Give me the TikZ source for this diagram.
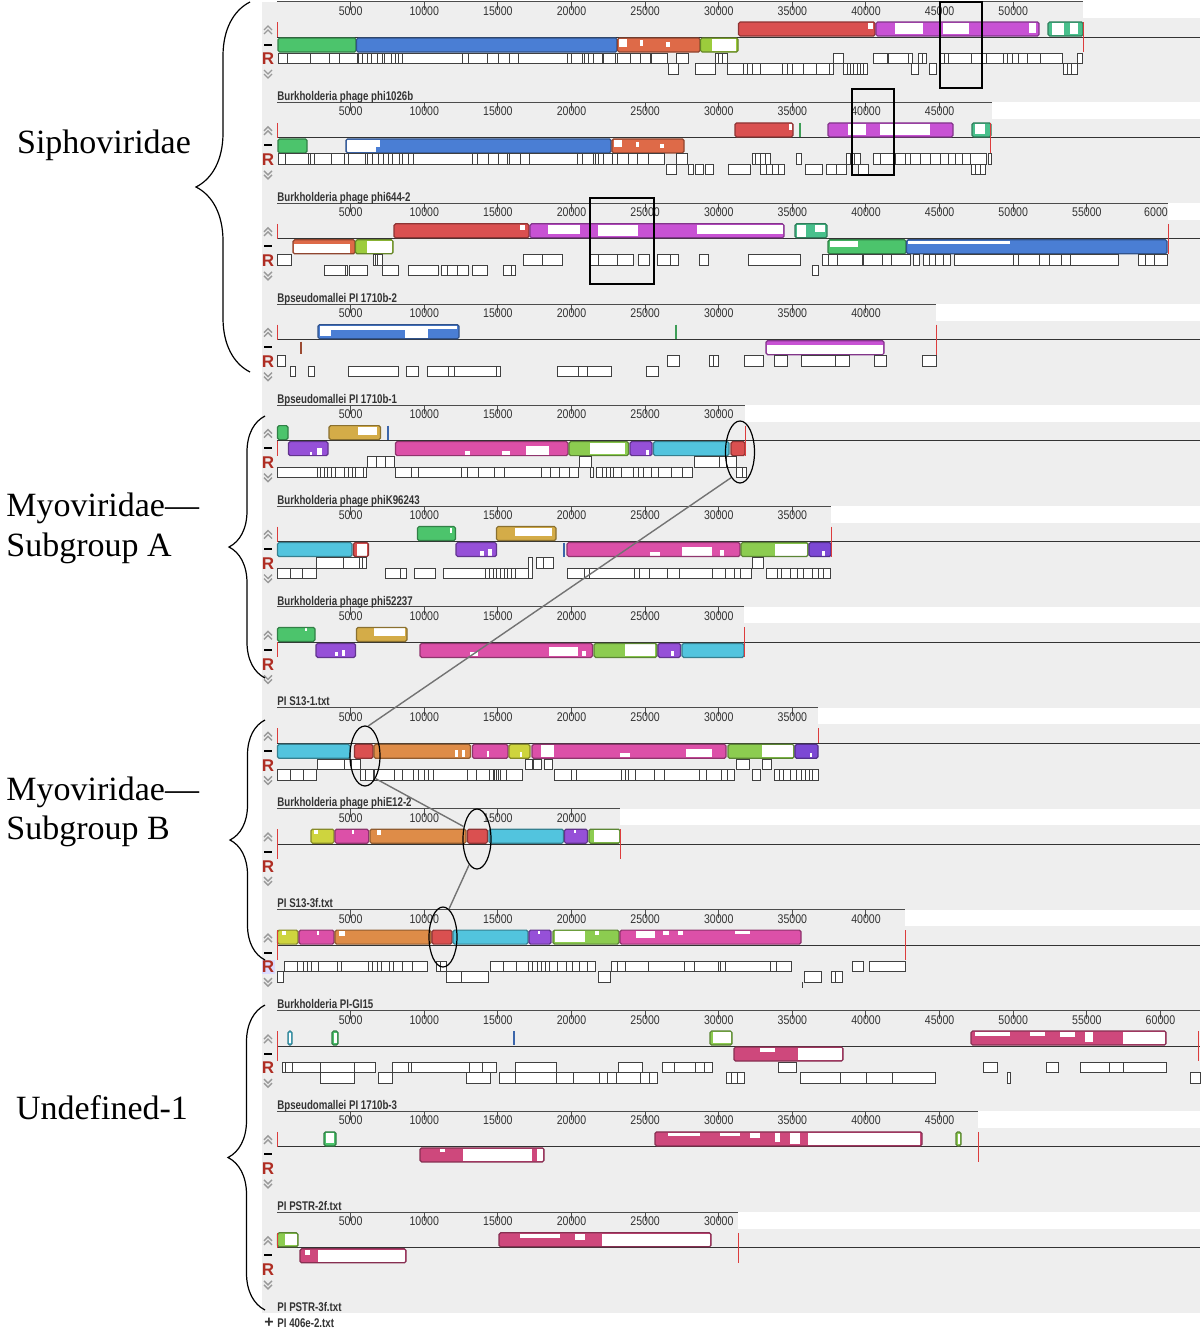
\documentclass[tikz,border=0pt]{standalone}
\usepackage{fontspec}
\newfontfamily\mfont[FakeStretch=0.84]{Liberation Sans}
\newfontfamily\tfont[FakeStretch=0.77]{Liberation Sans}
\newfontfamily\rfont{Liberation Sans}
\newfontfamily\serf{Liberation Serif}
\usetikzlibrary{shapes.geometric,decorations.pathreplacing}
\definecolor{cgreen}{RGB}{76,196,108}
\definecolor{cblue}{RGB}{74,126,212}
\definecolor{csalmon}{RGB}{222,106,72}
\definecolor{clime}{RGB}{156,204,60}
\definecolor{cred}{RGB}{218,80,80}
\definecolor{cmag}{RGB}{200,82,212}
\definecolor{cteal}{RGB}{72,192,140}
\definecolor{cgold}{RGB}{212,172,72}
\definecolor{cviol}{RGB}{150,80,216}
\definecolor{cpink}{RGB}{220,80,168}
\definecolor{ccyan}{RGB}{82,196,222}
\definecolor{corange}{RGB}{222,140,72}
\definecolor{cyell}{RGB}{206,212,62}
\definecolor{cdpink}{RGB}{206,72,124}
\definecolor{clg}{RGB}{140,204,80}
\definecolor{cdviol}{RGB}{124,72,212}
\definecolor{panelgray}{RGB}{238,238,238}
\definecolor{markred}{RGB}{220,60,60}
\definecolor{rcol}{RGB}{175,45,35}
\tikzset{
 rline/.style={draw=black!70, line width=0.5pt},
 cline/.style={draw=black!80, line width=0.5pt},
 rnum/.style={anchor=base, inner sep=0pt, font=\mfont\fontsize{6.3}{7}\selectfont, text=black!80},
 ttl/.style={anchor=base west, inner sep=0pt, font=\tfont\bfseries\fontsize{6.3}{7}\selectfont, text=black!80},
 rlab/.style={inner sep=0pt, font=\rfont\bfseries\fontsize{8.5}{9}\selectfont, text=rcol},
 chev/.style={draw=black!40, line width=0.7pt},
 gbox/.style={fill=white, draw=black!75, line width=0.45pt},
 gline/.style={draw=black!75, line width=0.45pt},
 mk/.style={draw=markred, line width=0.5pt},
 grp/.style={inner sep=0pt, font=\serf\fontsize{17}{20}\selectfont},
 brc/.style={decorate, draw=black, line width=0.6pt},
 hl/.style={draw=black, line width=1pt},
 ell/.style={ellipse, draw=black, line width=0.6pt, inner sep=0pt},
 conn/.style={draw=black!55, line width=0.7pt},
}
\newcommand\blk[6]{\fill[#1,rounded corners=0.8pt] (#2,#4) rectangle (#3,#5); #6 \draw[#1!65!black,line width=0.6pt,rounded corners=0.8pt] (#2,#4) rectangle (#3,#5);}
\newcommand\ublk[4]{\blk{#1}{#2}{#3}{-15}{-1}{#4}}
\newcommand\dblk[4]{\blk{#1}{#2}{#3}{1}{15}{#4}}
\newcommand\wpt[4]{\fill[white] (#1,#3) rectangle (#2,#4);}
\newcommand\gA[3]{\draw[gbox] (#1,16) rectangle (#2,26.5); \foreach \xx in {#3}{\draw[gline] (\xx,16)--(\xx,26.5);}}
\newcommand\gB[3]{\draw[gbox] (#1,26.5) rectangle (#2,37); \foreach \xx in {#3}{\draw[gline] (\xx,26.5)--(\xx,37);}}
\newcommand\mkr[3]{\draw[mk] (#1,#2)--(#1,#3);}
\newcommand\vtick[4]{\draw[#1, line width=1pt] (#2,#3)--(#2,#4);}
\newcommand\panelbg[3]{%
 \fill[panelgray] (262,-35.5) rectangle (1200,65.4);
 \fill[white] (#1,-35.5) rectangle (1200,-19);
 \draw[rline] (277,-35.5)--(#1,-35.5);
 \foreach \k in {1,...,#2}{\pgfmathsetmacro\xk{277+73.62*\k}
   \draw[rline] (\xk,-35.5)--(\xk,-27);
   \node[rnum] (n#3-\k) at (\xk,-22) {\the\numexpr5000*\k\relax};}
 \draw[cline] (277,0)--(1200,0);
 \draw[chev] (264,-7)--(268,-11)--(272,-7) (264,-3)--(268,-7)--(272,-3);
 \fill[black] (264,6.5) rectangle (272,8.5);
 \node[rlab] (R#3) at (268,22) {R};
 \draw[chev] (264,33)--(268,37)--(272,33) (264,37)--(268,41)--(272,37);}
\begin{document}
\begin{tikzpicture}[x=0.5pt,y=-0.5pt]
\useasboundingbox (0,0) rectangle (1200,1333);
\fill[white] (0,0) rectangle (1200,1333);
\foreach \pI/\pE/\pN in {0/1083/10,1/992/9,2/1168/11,3/936/8,4/745/6,5/831/7,6/744/6,7/818/7,8/620/4,9/905/8,10/1200/12,11/978/9,12/738/6}{
 \begin{scope}[shift={(0,37+100.9*\pI)}]
   \panelbg{\pE}{\pN}{\pI}
 \end{scope}}
% ---------- panel 0
\begin{scope}[shift={(0,37)}]
\dblk{cgreen}{278}{356}{}
\dblk{cblue}{356.5}{617}{}
\dblk{csalmon}{617.5}{700}{\wpt{619}{627}{2}{10}\wpt{640}{643}{3}{9}\wpt{666}{670}{5}{10}}
\dblk{clime}{700.5}{738}{\wpt{712}{736}{2}{14}}
\ublk{cred}{738.5}{875}{\wpt{868}{873}{-14}{-8}}
\ublk{cmag}{876}{1039}{\wpt{895}{923}{-14}{-3}\wpt{943}{969}{-14}{-3}\wpt{1029}{1036}{-14}{-4}}
\ublk{cteal}{1048}{1083}{\wpt{1052}{1064}{-14}{-2}\wpt{1070}{1078}{-14}{-3}}
\mkr{277}{-15}{0}\mkr{1083}{-15}{15}
\gA{278}{667}{287,310,329,339,357,358.5,362,367,371,377,382,384,391,395,398,402,462,468,487,498,509,518,567,571,582,584,588,593,602,603.5,615,617,630,640,650,651}
\gB{668}{678}{668}
\gA{676}{688}{676}
\gB{695}{715}{695}
\gA{715}{727}{718,722}
\gB{727}{833}{743,747,752,760,782,787,792,803,816,829}
\gA{833}{843}{833}
\gB{843}{867}{847,850,853,857,860,863}
\gA{873}{887}{873}
\gA{888}{908}{888}
\gA{908}{912}{908}
\gB{911}{918}{911}
\gA{918}{926}{922}
\gB{929}{936}{929}
\gA{940}{1062}{944,948,971,981,986,1003,1007,1012,1018,1027,1040}
\gB{1063}{1077}{1067,1071}
\gA{1077}{1082}{1077}
\node[ttl] (t0) at (277,63.5) {Burkholderia phage phi1026b};
\end{scope}
% ---------- panel 1
\begin{scope}[shift={(0,137.9)}]
\dblk{cgreen}{278}{307}{}
\dblk{cblue}{346}{611}{\wpt{347}{376}{2}{14}\wpt{376}{380}{2}{9}}
\dblk{csalmon}{612}{684}{\wpt{614}{622}{2}{9}\wpt{636}{639}{4}{9}\wpt{660}{664}{6}{10}}
\ublk{cred}{735}{793}{\wpt{789}{792}{-14}{-8}}
\vtick{cgreen!80!black}{800}{-15}{-1}
\ublk{cmag}{828}{953}{\wpt{848}{866}{-14}{-3}\wpt{880}{930}{-14}{-3}}
\ublk{cteal}{972}{991}{\wpt{975}{985}{-14}{-4}}
\mkr{277}{-15}{0}\mkr{990}{-15}{15}
\gA{278}{664}{285,308,310,314,331,344,348,365,367,372,378,383,388,392,399,402,408,413,472,477,488,498,507,509,520,529,577,582,593,595,598,603,612,617,628,637,648}
\gB{666}{676}{666}
\gA{676}{687}{676}
\gB{688}{693}{688}
\gB{695}{703}{695}
\gB{705}{713}{705}
\gB{728}{750}{728}
\gA{752}{770}{755,760,765}
\gB{760}{784}{766,772,778}
\gA{796}{801}{796}
\gB{805}{822}{805}
\gB{826}{846}{836}
\gA{846}{860}{850,854}
\gB{858}{868}{858}
\gA{873}{986}{880,895,905,910,920,930,940,948,955,962,970}
\gB{971}{985}{975,980}
\gA{988}{991}{988}
\node[ttl] (t1) at (277,63.5) {Burkholderia phage phi644-2};
\end{scope}
% ---------- panel 2
\begin{scope}[shift={(0,238.8)}]
\node[rnum] (n2x) at (1156,-22) {6000};
\dblk{csalmon}{293}{355}{\wpt{294}{350}{5}{14}}
\dblk{clime}{355.5}{393}{\wpt{367}{392}{2}{14}}
\ublk{cred}{394}{529}{\wpt{520}{525}{-14}{-9}}
\ublk{cmag}{530}{784}{\wpt{548}{580}{-14}{-5}\wpt{598}{638}{-14}{-3}\wpt{697}{783}{-14}{-5}}
\ublk{cteal}{795}{827}{\wpt{797}{806}{-14}{-2}\wpt{815}{825}{-14}{-7}}
\dblk{cgreen}{828}{906}{\wpt{830}{858}{2}{8}}
\dblk{cblue}{906.5}{1167}{\wpt{908}{1010}{2}{5}}
\mkr{277}{-15}{0}\mkr{1168}{-15}{15}
\gA{277}{291}{277}
\gB{324}{347}{345.5}
\gB{349}{367}{349}
\gA{373}{382}{375.5,377.5}
\gB{382}{398}{382}
\gB{408}{438}{408}
\gB{441}{468}{447,457}
\gB{472}{487}{472}
\gB{503}{515}{511.5}
\gA{523}{562}{542}
\gA{590}{633}{598,617}
\gA{638}{649}{638}
\gA{657}{678}{670}
\gA{699}{708}{699}
\gA{748}{800}{748}
\gB{812}{818}{812}
\gA{822}{910}{828,837,862,863.5,882,891}
\gA{913}{919}{913}
\gA{923}{950}{929,935,943}
\gA{954}{1118}{1013,1018,1039,1049,1061,1070}
\gA{1138}{1167}{1145,1154}
\node[ttl] (t2) at (277,63.5) {Bpseudomallei PI 1710b-2};
\end{scope}
% ---------- panel 3
\begin{scope}[shift={(0,339.7)}]
\ublk{cblue}{318}{459}{\wpt{320}{331}{-14}{-4}\wpt{331}{405}{-14}{-10}\wpt{405}{428}{-14}{-2}\wpt{428}{457}{-14}{-11}}
\vtick{cgreen!80!black}{676}{-15}{-1}
\vtick{csalmon!70!black}{301}{2}{14}
\dblk{cmag}{766}{884}{\wpt{767}{883}{5}{14}}
\mkr{277}{-15}{0}\mkr{936}{-15}{15}
\gA{277}{285}{277}
\gB{290}{295}{290}
\gB{308}{314}{308}
\gB{348}{398.5}{348}
\gB{406.6}{418}{406.6}
\gB{427.6}{500.7}{448.7,454.5,496}
\gB{557.7}{611.5}{578,587}
\gB{646}{658.6}{646}
\gA{667.6}{679}{667.6}
\gA{709}{718}{713.5}
\gA{744}{763}{744}
\gA{774}{787}{774}
\gA{801}{849}{835.7}
\gA{874}{886}{874}
\gA{922}{936}{922}
\node[ttl] (t3) at (277,63.5) {Bpseudomallei PI 1710b-1};
\end{scope}
% ---------- panel 4
\begin{scope}[shift={(0,440.6)}]
\ublk{cgreen}{277.5}{288}{}
\ublk{cgold}{329}{380.5}{\wpt{358}{377}{-14}{-6}}
\vtick{cblue!80!black}{388}{-15}{-1}
\dblk{cviol}{288.5}{328}{\wpt{310}{312}{11}{14}\wpt{317}{322}{7}{14}}
\dblk{cpink}{395.5}{568}{\wpt{465}{470}{10}{14}\wpt{502}{510}{10}{14}\wpt{526}{549}{5}{14}}
\dblk{clg}{569}{628.5}{\wpt{590}{625}{2}{13}}
\dblk{cviol}{630}{652}{\wpt{646}{649}{9}{14}}
\dblk{ccyan}{653.5}{729}{}
\dblk{cred}{731}{745}{}
\mkr{277}{0}{15}\mkr{745}{-15}{15}
\gB{277}{366.5}{317.5,320,324,327.5,331,335,344,348,352,355,363}
\gA{367.6}{394.4}{376,385}
\gB{395.5}{578.4}{411,418.6,461,467,478,494.8,504.8,541,550.5,559.8,569}
\gA{579.5}{591.4}{579.5}
\gB{590}{593}{590}
\gB{596}{692}{602.6,606.3,610,613.7,621,633.4,638,643.5,651,658,671,682}
\gA{694.4}{736.4}{719.7,726.4}
\gB{736.4}{746.4}{742}
\node[ttl] (t4) at (277,63.5) {Burkholderia phage phiK96243};
\end{scope}
% ---------- panel 5
\begin{scope}[shift={(0,541.5)}]
\dblk{ccyan}{277.5}{352}{}
\dblk{cred}{353.5}{368.5}{\wpt{357}{367}{2}{14}}
\ublk{cgreen}{417.5}{455.5}{\wpt{450}{452}{-14}{-9}}
\ublk{cgold}{496.5}{556}{\wpt{515}{552}{-14}{-6}}
\dblk{cviol}{456}{496.5}{\wpt{480}{484}{9}{14}\wpt{488}{492}{7}{14}}
\vtick{cblue!80!black}{564}{1}{15}
\dblk{cpink}{567}{740}{\wpt{650}{660}{10}{14}\wpt{682}{712}{5}{14}\wpt{720}{724}{8}{14}}
\dblk{clg}{741}{808}{\wpt{775}{807}{2}{14}}
\dblk{cdviol}{809}{831}{\wpt{822}{825}{9}{14}}
\mkr{277}{-15}{0}\mkr{831}{-15}{15}
\gB{277}{316}{290,302.6}
\gA{316}{366.5}{343,359,362.8}
\gB{385}{406.7}{400.7}
\gB{414}{435}{414}
\gB{443.8}{528}{485.5,489,493,496.6,500.4,504,507.8,511.5,515}
\draw[gbox] (528,16) rectangle (532,37);
\gA{536.8}{553.5}{543}
\gB{567}{751}{584,589.6,634,639.8,649,667,679,712.3,725.3,734.6,740}
\gA{752}{763.5}{752}
\gB{766}{830}{777,781,790,797.8,803,812,818,823.8}
\node[ttl] (t5) at (277,63.5) {Burkholderia phage phi52237};
\end{scope}
% ---------- panel 6
\begin{scope}[shift={(0,642.4)}]
\ublk{cgreen}{277.5}{315}{\wpt{305}{307}{-14}{-11}}
\ublk{cgold}{356.5}{407}{\wpt{374}{405}{-14}{-6}}
\dblk{cviol}{316}{355.5}{\wpt{335}{338}{10}{14}\wpt{342}{345}{8}{14}}
\dblk{cpink}{420}{592.5}{\wpt{470}{478}{10}{14}\wpt{549}{578}{5}{14}\wpt{582}{586}{9}{14}}
\dblk{clg}{594}{657}{\wpt{625}{655}{2}{14}}
\dblk{cviol}{658}{680.5}{\wpt{671}{674}{9}{14}}
\dblk{ccyan}{682}{744}{}
\mkr{277}{0}{15}\mkr{744}{-15}{15}
\node[ttl] (t6) at (277,63.5) {PI S13-1.txt};
\end{scope}
% ---------- panel 7
\begin{scope}[shift={(0,743.3)}]
\dblk{ccyan}{277.5}{350}{}
\dblk{cred}{354.5}{373}{}
\dblk{corange}{374}{470.5}{\wpt{455}{458}{7}{14}\wpt{462}{465}{7}{14}}
\dblk{cpink}{472.5}{508}{\wpt{487}{489}{8}{14}}
\dblk{cyell}{509}{530}{\wpt{520}{522}{9}{14}}
\dblk{cpink}{532}{726}{\wpt{541}{554}{2}{14}\wpt{620}{630}{10}{14}\wpt{686}{712}{6}{14}}
\dblk{clg}{728}{794}{\wpt{762}{793}{2}{14}}
\dblk{cdviol}{795}{818}{\wpt{810}{812}{10}{14}}
\mkr{277}{-15}{0}\mkr{818}{-15}{0}
\gB{277}{316}{290,303}
\gA{317.5}{360}{344,351}
\gB{360}{373}{365.8}
\gB{374}{522.7}{394.4,402,413,418.6,424,428,433.4,467,476,489,493,494.8,496.6,498.5,500,506}
\gA{525.6}{532}{525.6}
\gA{533.8}{541}{533.8}
\gA{544}{552.4}{544}
\gB{554}{734.6}{571,576.6,621,625,628.6,635,654.6,664,699,706.7,721.5,727}
\gA{736.4}{749.4}{736.4}
\gB{752.4}{760}{752.4}
\gA{762.4}{771.7}{762.4}
\gB{774.7}{818}{779,783,790,796,801.5,805,809,812.6}
\node[ttl] (t7) at (277,63.5) {Burkholderia phage phiE12-2};
\end{scope}
% ---------- panel 8
\begin{scope}[shift={(0,844.2)}]
\ublk{cyell}{311}{334}{\wpt{314}{318}{-14}{-10}}
\ublk{cpink}{335}{368.6}{\wpt{352}{354}{-14}{-10}}
\ublk{corange}{370}{466}{\wpt{377}{381}{-14}{-9}}
\ublk{cred}{467.5}{487.5}{}
\ublk{ccyan}{489}{563.5}{}
\ublk{cviol}{564.5}{587.5}{\wpt{574}{576}{-14}{-11}}
\ublk{clg}{589}{620}{\wpt{594}{619}{-14}{-2}}
\mkr{277}{-15}{15}\mkr{620}{-15}{15}
\node[ttl] (t8) at (277,63.5) {PI S13-3f.txt};
\end{scope}
% ---------- panel 9
\begin{scope}[shift={(0,945.1)}]
\fill[blue!14] (262,15) rectangle (275,29);
\node[rlab] (R9b) at (268,22) {R};
\ublk{cyell}{277.5}{298}{\wpt{282}{286}{-14}{-10}}
\ublk{cpink}{299}{334}{\wpt{317}{319}{-14}{-10}}
\ublk{corange}{335}{431}{\wpt{339}{345}{-14}{-9}}
\ublk{cred}{432}{452}{}
\ublk{ccyan}{453}{528}{}
\ublk{cviol}{529}{551}{\wpt{538}{540}{-14}{-11}}
\ublk{clg}{553}{619}{\wpt{555}{585}{-14}{-3}\wpt{595}{599}{-14}{-10}}
\ublk{cpink}{620}{801}{\wpt{636}{655}{-14}{-7}\wpt{663}{669}{-14}{-10}\wpt{678}{683}{-14}{-10}\wpt{735}{750}{-14}{-11}}
\mkr{277}{-15}{15}\mkr{905}{-15}{15}
\gB{277.5}{283.6}{277.5}
\gA{284.5}{427.6}{297,303.4,307.6,311.8,318,337,341.3,368.6,372.8,377,381.3,389.7,393.9,402.3,412.8}
\gA{436.8}{446.5}{440.2}
\gB{446.5}{488.6}{461.2}
\gA{490.7}{595.9}{503.3,516.8,528.6,532.8,537,541.2,545.4,549.6,557.2,566.4,572.8,579,587.5}
\gB{598}{610.6}{598}
\gA{611.9}{791.6}{617,625.4,648.5,684.3,694.8,718,720,725.5,770.6,776.9}
\gB{804}{821}{804}
\gB{831.6}{842}{835.8}
\gA{852.6}{863}{852.6}
\gA{869.5}{905}{869.5}
\draw[gline] (802,37)--(802,43);
\node[ttl] (t9) at (277,63.5) {Burkholderia PI-GI15};
\end{scope}
% ---------- panel 10
\begin{scope}[shift={(0,1046)}]
\ublk{ccyan}{288}{292}{\wpt{289}{291}{-13}{-3}}
\ublk{cgreen}{332}{338}{\wpt{333.5}{336.5}{-13}{-3}}
\vtick{cblue!80!black}{514}{-15}{-1}
\ublk{clg}{710}{732}{\wpt{713}{731}{-14}{-3}}
\ublk{cdpink}{971}{1166}{\wpt{975}{1010}{-14}{-10}\wpt{1030}{1045}{-14}{-10}\wpt{1060}{1075}{-14}{-9}\wpt{1085}{1093}{-14}{-4}\wpt{1123}{1165}{-14}{-2}}
\dblk{cdpink}{734}{843}{\wpt{760}{775}{2}{6}\wpt{798}{842}{2}{14}}
\mkr{277}{-15}{15}\mkr{1198}{-15}{15}
\gA{282}{375.6}{285,292,320,354.5}
\gB{320}{354.5}{320}
\gB{378.6}{392.4}{378.6}
\gA{392.4}{496}{408.7,411.7,469,482.8}
\gB{466}{490}{466}
\gB{499}{515.4}{499}
\gA{515.4}{556.4}{515.4}
\gB{515.4}{657.7}{556.4,573,599.8,607.6,616.7,640.8,649.8}
\gA{618.5}{642}{618.5}
\gA{662.5}{712}{674,695,704}
\gB{726}{744.5}{731,737}
\gA{778}{796}{778}
\gB{800.5}{935}{840.9,866.8,892.7}
\gA{983}{997.5}{983}
\gB{1007}{1010}{1007}
\gA{1046}{1058.5}{1046}
\gA{1080.8}{1166.4}{1109.7,1123}
\gB{1190}{1200}{1190}
\node[ttl] (t10) at (277,63.5) {Bpseudomallei PI 1710b-3};
\end{scope}
% ---------- panel 11
\begin{scope}[shift={(0,1146.9)}]
\ublk{cgreen}{324}{336}{\wpt{326}{334}{-14}{-4}}
\ublk{cdpink}{655}{922}{\wpt{668}{700}{-14}{-11}\wpt{720}{740}{-14}{-11}\wpt{750}{760}{-14}{-9}\wpt{775}{780}{-14}{-5}\wpt{790}{800}{-14}{-3}\wpt{808}{920}{-14}{-2}}
\ublk{clg}{956}{961}{\wpt{957.5}{959.5}{-13}{-3}}
\dblk{cdpink}{420}{544}{\wpt{440}{445}{2}{5}\wpt{463}{532}{2}{14}\wpt{537}{543}{2}{14}}
\mkr{277}{-15}{0}\mkr{978}{-15}{15}
\node[ttl] (t11) at (277,63.5) {PI PSTR-2f.txt};
\end{scope}
% ---------- panel 12
\begin{scope}[shift={(0,1247.8)}]
\ublk{clg}{277.5}{298}{\wpt{285}{297}{-14}{-3}}
\ublk{cdpink}{499}{711}{\wpt{520}{560}{-14}{-10}\wpt{575}{585}{-14}{-8}\wpt{602}{710}{-14}{-2}}
\dblk{cdpink}{300}{406}{\wpt{305}{310}{2}{7}\wpt{318}{405}{2}{14}}
\mkr{277}{-15}{0}\mkr{738}{-15}{15}
\node[ttl] (t12) at (277,63.5) {PI PSTR-3f.txt};
\end{scope}
\node[ttl, font=\rfont\bfseries\fontsize{8}{9}\selectfont] (plus) at (264,1327) {+};
\node[ttl] (t13) at (277,1327) {PI 406e-2.txt};
% ---------- highlight boxes
\draw[hl] (940,2) rectangle (982,88);
\draw[hl] (852,89) rectangle (894,175);
\draw[hl] (590,198) rectangle (654,284);
% ---------- ellipses and connectors
\node[ell, minimum width=14.5pt, minimum height=31pt] (e1) at (740,452) {};
\node[ell, minimum width=15pt, minimum height=30pt] (e2) at (365,756) {};
\node[ell, minimum width=14pt, minimum height=30pt] (e3) at (477,839) {};
\node[ell, minimum width=14pt, minimum height=30pt] (e4) at (443,937) {};
\draw[conn] (e1.251) -- (e2.84);
\draw[conn] (e2.295) -- (e3.137);
\draw[conn] (e3.253) -- (e4.78);
% ---------- braces and group labels
\draw[brc, decoration={brace,amplitude=27pt}] (250,372) -- (250,2);
\node[grp] (sipho) at (104,145) {Siphoviridae};
\draw[brc, decoration={brace,amplitude=18pt}] (265,678) -- (265,416);
\node[grp, anchor=west] (myoA1) at (6,508) {Myoviridae—};
\node[grp, anchor=west] (myoA2) at (6,548) {Subgroup A};
\draw[brc, decoration={brace,amplitude=17.5pt}] (265,960) -- (265,720);
\node[grp, anchor=west] (myoB1) at (6,792) {Myoviridae—};
\node[grp, anchor=west] (myoB2) at (6,831) {Subgroup B};
\draw[brc, decoration={brace,amplitude=18.5pt}] (265,1310) -- (265,1005);
\node[grp] (undef) at (102,1108) {Undefined-1};
\end{tikzpicture}
\end{document}
